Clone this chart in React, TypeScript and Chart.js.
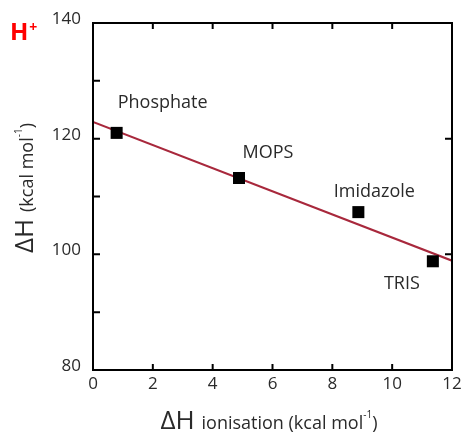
import { useEffect, useRef } from "react";
import { Chart, registerables } from "chart.js";

Chart.register(...registerables);

// ---- data ----
const bufferNames = ["Phosphate", "MOPS", "Imidazole", "TRIS"];
const ionisationEnthalpy = [0.79, 4.88, 8.87, 11.36];
const bindingEnthalpy = [121.0, 113.2, 107.3, 98.8];
const fitX = [0, 12];
const fitY = [122.9, 98.9];
const yMinorTicks = [90, 100, 110, 120, 130];
const yRightTicks = [100, 120];
const xMinorTicks = [2, 4, 6, 8, 10];

// ---- style ----
const FONT = "'Open Sans', 'DejaVu Sans', sans-serif";
const TEXT = "#2a2a2a";
const LINE_RED = "#a8283c";
const labelOffsets = [
  [46, -30],
  [29, -25],
  [16, -20],
  [-31, 23],
];

const decorPlugin = {
  id: "decor",
  afterDraw(chart: any) {
    const { ctx, chartArea: ca } = chart;
    const xs = chart.scales.x;
    const ys = chart.scales.y;
    ctx.save();
    // frame
    ctx.strokeStyle = "#000";
    ctx.lineWidth = 2;
    ctx.strokeRect(ca.left, ca.top, ca.right - ca.left, ca.bottom - ca.top);
    ctx.beginPath();
    yMinorTicks.forEach((v) => {
      const y = ys.getPixelForValue(v);
      ctx.moveTo(ca.left, y);
      ctx.lineTo(ca.left + 7, y);
    });
    yRightTicks.forEach((v) => {
      const y = ys.getPixelForValue(v);
      ctx.moveTo(ca.right, y);
      ctx.lineTo(ca.right - 7, y);
    });
    xMinorTicks.forEach((v) => {
      const x = xs.getPixelForValue(v);
      ctx.moveTo(x, ca.bottom);
      ctx.lineTo(x, ca.bottom - 6);
      ctx.moveTo(x, ca.top);
      ctx.lineTo(x, ca.top + 6);
    });
    ctx.stroke();

    // point labels
    ctx.fillStyle = TEXT;
    ctx.font = `18px ${FONT}`;
    ctx.textAlign = "center";
    ctx.textBaseline = "middle";
    bufferNames.forEach((name, i) => {
      const x = xs.getPixelForValue(ionisationEnthalpy[i]);
      const y = ys.getPixelForValue(bindingEnthalpy[i]);
      ctx.fillText(name, x + labelOffsets[i][0], y + labelOffsets[i][1]);
    });

    // x title
    ctx.textBaseline = "alphabetic";
    ctx.textAlign = "left";
    const big = `26px ${FONT}`;
    const small = `18px ${FONT}`;
    const sup = `10px ${FONT}`;
    ctx.font = big;
    const wBig = ctx.measureText("ΔH ").width;
    ctx.font = small;
    const rest = "ionisation (kcal mol";
    const wRest = ctx.measureText(rest).width;
    ctx.font = sup;
    const wSup = ctx.measureText("-1").width;
    ctx.font = small;
    const wClose = ctx.measureText(")").width;
    const total = wBig + wRest + wSup + wClose;
    let x0 = 269 - total / 2;
    const yb = 429;
    ctx.font = big;
    ctx.fillText("ΔH ", x0, yb);
    x0 += wBig;
    ctx.font = small;
    ctx.fillText(rest, x0, yb);
    x0 += wRest;
    ctx.font = sup;
    ctx.fillText("-1", x0, yb - 11);
    x0 += wSup;
    ctx.font = small;
    ctx.fillText(")", x0, yb);

    // y title (rotated)
    ctx.save();
    ctx.translate(33, 188);
    ctx.rotate(-Math.PI / 2);
    ctx.font = big;
    const yBig = ctx.measureText("ΔH ").width;
    ctx.font = small;
    const yRest = "(kcal mol";
    const yRestW = ctx.measureText(yRest).width;
    const ytot = yBig + yRestW + wSup + wClose;
    let t = -ytot / 2;
    ctx.font = big;
    ctx.fillText("ΔH ", t, 0);
    t += yBig;
    ctx.font = small;
    ctx.fillText(yRest, t, 0);
    t += yRestW;
    ctx.font = sup;
    ctx.fillText("-1", t, -11);
    t += wSup;
    ctx.font = small;
    ctx.fillText(")", t, 0);
    ctx.restore();

    // H+
    ctx.fillStyle = "#ff0000";
    ctx.font = `bold 24px ${FONT}`;
    ctx.fillText("H", 10, 40);
    const wh = ctx.measureText("H").width;
    ctx.font = `bold 14px ${FONT}`;
    ctx.fillText("+", 11 + wh, 32);
    ctx.restore();
  },
};

export default function App() {
  const ref = useRef<HTMLCanvasElement>(null);
  useEffect(() => {
    if (!ref.current) return;
    const chart = new Chart(ref.current, {
      type: "scatter",
      data: {
        datasets: [
          {
            type: "line",
            data: fitX.map((x, i) => ({ x, y: fitY[i] })),
            borderColor: LINE_RED,
            borderWidth: 2,
            pointRadius: 0,
            order: 2,
          } as any,
          {
            data: ionisationEnthalpy.map((x, i) => ({ x, y: bindingEnthalpy[i] })),
            pointStyle: "rect",
            pointRadius: 8.5,
            pointBackgroundColor: "#000",
            pointBorderWidth: 0,
            order: 1,
          },
        ],
      },
      options: {
        responsive: false,
        animation: false,
        devicePixelRatio: 1,
        layout: { padding: { top: 23, right: 14, left: 0, bottom: 0 } },
        plugins: { legend: { display: false }, tooltip: { enabled: false } },
        scales: {
          x: {
            type: "linear",
            min: 0,
            max: 12,
            afterFit: (s: any) => {
              s.height = 64;
            },
            grid: { display: false, drawTicks: false },
            border: { display: true, color: "#000", width: 2 },
            ticks: {
              stepSize: 2,
              padding: 4,
              color: TEXT,
              font: { family: FONT, size: 17 },
              maxRotation: 0,
            },
          },
          y: {
            type: "linear",
            min: 80,
            max: 140,
            afterFit: (s: any) => {
              s.width = 93;
            },
            grid: { display: false, drawTicks: false },
            border: { display: true, color: "#000", width: 2 },
            ticks: {
              stepSize: 20,
              padding: 12,
              labelOffset: -4,
              color: TEXT,
              font: { family: FONT, size: 17 },
            },
          },
        },
      },
      plugins: [decorPlugin],
    });
    return () => chart.destroy();
  }, []);
  return (
    <canvas
      ref={ref}
      width={466}
      height={434}
      style={{ position: "absolute", left: 0, top: 0, width: 466, height: 434 }}
    />
  );
}
